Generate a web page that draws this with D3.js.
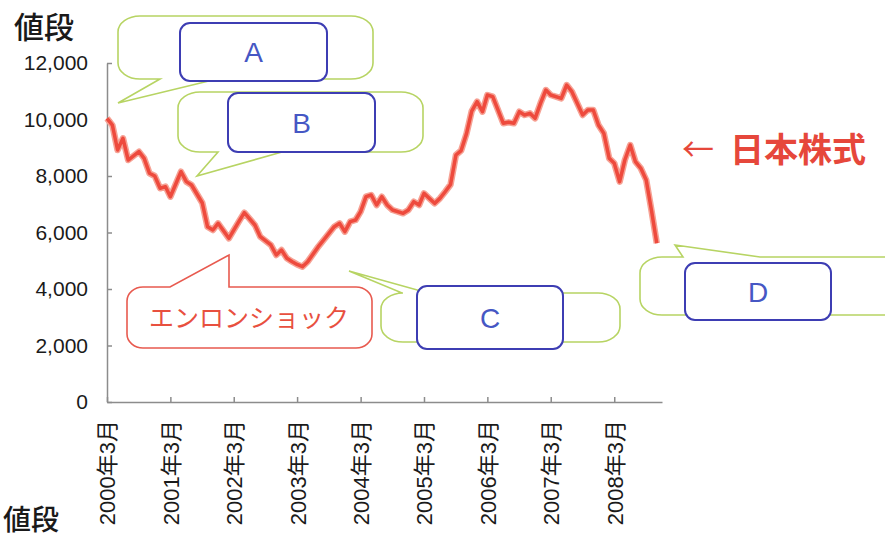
<!DOCTYPE html>
<html>
<head>
<meta charset="utf-8">
<script src="https://cdn.jsdelivr.net/npm/d3@7"></script>
<style>
  body { margin: 0; background: #fff; }
  svg { display: block; }
</style>
</head>
<body>
<script>
// monthly readings of the Japanese stock line (gaps where the picture has no clear vertex)
var dates = [
  "2000-03","2000-04","2000-05","2000-06","2000-07","2000-09","2000-10","2000-11","2000-12",
  "2001-01","2001-02","2001-03","2001-05","2001-06","2001-07","2001-09","2001-10","2001-11","2001-12",
  "2002-02","2002-04","2002-05","2002-07","2002-08","2002-10","2002-11","2002-12",
  "2003-01","2003-02","2003-03","2003-04","2003-05","2003-07","2003-08","2003-10","2003-11","2003-12",
  "2004-01","2004-02","2004-03","2004-04","2004-05","2004-06","2004-07","2004-08","2004-09","2004-11","2004-12",
  "2005-01","2005-02","2005-03","2005-05","2005-06","2005-07","2005-08","2005-09","2005-10","2005-11","2005-12",
  "2006-01","2006-02","2006-03","2006-04","2006-06","2006-07","2006-08","2006-09","2006-10","2006-11","2006-12",
  "2007-01","2007-02","2007-03","2007-05","2007-06","2007-07","2007-09","2007-10","2007-11","2007-12",
  "2008-01","2008-02","2008-03","2008-04","2008-05","2008-06","2008-07","2008-08","2008-09","2008-10","2008-11"
];
var values = [
  10040, 9800, 8920, 9335, 8566, 8860, 8626, 8095, 8000,
  7565, 7622, 7267, 8152, 7800, 7681, 7044, 6205, 6088, 6324,
  5795, 6400, 6702, 6265, 5850, 5558, 5204, 5380,
  5086, 4966, 4870, 4790, 4966, 5497, 5735, 6205, 6324, 6029,
  6383, 6442, 6737, 7267, 7327, 6973, 7267, 6973, 6796, 6678, 6796,
  7091, 6973, 7385, 7032, 7209, 7444, 7700, 8743, 8900, 9500, 10300,
  10631, 10277, 10867, 10808, 9864, 9900, 9864, 10277, 10159, 10218, 10041,
  10572, 11044, 10867, 10749, 11221, 10985, 10159, 10336, 10336, 9805,
  9510, 8626, 8450, 7800, 8566, 9097, 8506, 8272, 7858, 6796, 5617
];
var xTicks = ["2000-03","2001-03","2002-03","2003-03","2004-03","2005-03","2006-03","2007-03","2008-03"];
var yTicks = [0, 2000, 4000, 6000, 8000, 10000, 12000];
var boxLabels = ["A", "B", "C", "D"];

var parse = d3.timeParse("%Y-%m");
var series = dates.map(function(d, i) { return { date: parse(d), value: values[i] }; });

var svg = d3.select("body").append("svg")
    .attr("width", 885)
    .attr("height", 538);

var x = d3.scaleTime()
    .domain([parse("2000-03"), parse("2008-12")])
    .range([107, 662]);
var y = d3.scaleLinear()
    .domain([0, 12000])
    .range([402, 63]);

// axes
var yAxis = svg.append("g")
    .attr("transform", "translate(107,0)")
    .call(d3.axisLeft(y).tickValues(yTicks).tickSizeInner(-5).tickSizeOuter(0)
        .tickPadding(19).tickFormat(d3.format(",")));
var xAxis = svg.append("g")
    .attr("transform", "translate(0,402)")
    .call(d3.axisBottom(x).tickValues(xTicks.map(parse)).tickSizeInner(-5).tickSizeOuter(0)
        .tickFormat(d3.timeFormat("%Y年%-m月")));

svg.selectAll(".domain, .tick line")
    .attr("stroke", "#8c8c8c")
    .attr("stroke-width", 1.5);

yAxis.selectAll("text")
    .attr("font-family", "'Liberation Sans', Arial, sans-serif")
    .attr("font-size", "21px")
    .attr("fill", "#1a1a1a");

xAxis.selectAll("text")
    .attr("font-family", "'Liberation Sans', 'Noto Sans CJK JP', sans-serif")
    .attr("font-size", "22px")
    .attr("fill", "#1a1a1a")
    .attr("text-anchor", "end")
    .attr("transform", "rotate(-90)")
    .attr("x", -18)
    .attr("y", 0)
    .attr("dy", "0.36em");

// price line
var line = d3.line()
    .x(function(d) { return x(d.date); })
    .y(function(d) { return y(d.value); });

svg.append("path")
    .datum(series)
    .attr("fill", "none")
    .attr("stroke", "#f6a295")
    .attr("stroke-width", 6.5)
    .attr("stroke-linejoin", "round")
    .attr("d", line);
svg.append("path")
    .datum(series)
    .attr("fill", "none")
    .attr("stroke", "#ee4a3d")
    .attr("stroke-width", 3.5)
    .attr("stroke-linejoin", "round")
    .attr("d", line);

// speech bubbles
function bubble(bx, by, w, h, rx, ry, tail) {
    var p = "M" + (bx + rx) + "," + by;
    if (tail && tail.side == "top") {
        p += "L" + tail.a + "," + by + "L" + tail.tx + "," + tail.ty + "L" + tail.b + "," + by;
    }
    p += "L" + (bx + w - rx) + "," + by;
    p += "A" + rx + "," + ry + " 0 0 1 " + (bx + w) + "," + (by + ry);
    p += "L" + (bx + w) + "," + (by + h - ry);
    p += "A" + rx + "," + ry + " 0 0 1 " + (bx + w - rx) + "," + (by + h);
    if (tail && tail.side == "bottom") {
        p += "L" + tail.b + "," + (by + h) + "L" + tail.tx + "," + tail.ty + "L" + tail.a + "," + (by + h);
    }
    p += "L" + (bx + rx) + "," + (by + h);
    p += "A" + rx + "," + ry + " 0 0 1 " + bx + "," + (by + h - ry);
    p += "L" + bx + "," + (by + ry);
    p += "A" + rx + "," + ry + " 0 0 1 " + (bx + rx) + "," + by + "Z";
    return p;
}

var green = "#b7d463";
var bubbles = [
    { x: 118, y: 16, w: 255, h: 63, tail: { side: "bottom", a: 160, b: 217, tx: 118, ty: 103 } },
    { x: 178, y: 92, w: 245, h: 60, tail: { side: "bottom", a: 218, b: 282, tx: 197, ty: 176 } },
    { x: 381, y: 293, w: 239, h: 49, tail: { side: "top", a: 402, b: 428, tx: 349, ty: 271 } },
    { x: 640, y: 257, w: 270, h: 58, tail: { side: "top", a: 683, b: 760, tx: 675, ty: 245 } }
];
svg.selectAll(".bubble")
    .data(bubbles)
    .enter()
    .append("path")
    .attr("class", "bubble")
    .attr("d", function(d) { return bubble(d.x, d.y, d.w, d.h, 22, 16, d.tail); })
    .attr("fill", "#fff")
    .attr("stroke", green)
    .attr("stroke-width", 1.6);

// Enron callout
svg.append("path")
    .attr("d", bubble(127, 287, 245, 61, 16, 14, { side: "top", a: 170, b: 229, tx: 229, ty: 255 }))
    .attr("fill", "#fff")
    .attr("stroke", "#e85a4f")
    .attr("stroke-width", 1.6);
svg.append("text")
    .attr("x", 249)
    .attr("y", 318)
    .attr("dy", "0.36em")
    .attr("text-anchor", "middle")
    .attr("font-family", "'Noto Sans CJK JP', sans-serif")
    .attr("font-size", "25px")
    .attr("fill", "#e8503f")
    .text("エンロンショック");

// blue boxes
var boxes = [
    { x: 180, y: 23, w: 147, h: 58 },
    { x: 228, y: 93, w: 147, h: 59 },
    { x: 417, y: 286, w: 146, h: 63 },
    { x: 685, y: 263, w: 146, h: 57 }
];
var boxG = svg.selectAll(".box")
    .data(boxes)
    .enter()
    .append("g")
    .attr("class", "box");
boxG.append("rect")
    .attr("x", function(d) { return d.x; })
    .attr("y", function(d) { return d.y; })
    .attr("width", function(d) { return d.w; })
    .attr("height", function(d) { return d.h; })
    .attr("rx", 10)
    .attr("fill", "#fff")
    .attr("stroke", "#3d3db3")
    .attr("stroke-width", 2);
boxG.append("text")
    .attr("x", function(d) { return d.x + d.w / 2; })
    .attr("y", function(d) { return d.y + d.h / 2; })
    .attr("dy", "0.36em")
    .attr("text-anchor", "middle")
    .attr("font-family", "'Liberation Sans', Arial, sans-serif")
    .attr("font-size", "28px")
    .attr("fill", "#4657c4")
    .text(function(d, i) { return boxLabels[i]; });

// series label
svg.append("text")
    .attr("x", 682)
    .attr("y", 161)
    .attr("font-family", "'Noto Sans CJK JP', sans-serif")
    .attr("font-size", "32px")
    .attr("fill", "#e6473b")
    .text("←");
svg.append("text")
    .attr("x", 730)
    .attr("y", 162)
    .attr("font-family", "'Noto Sans CJK JP', sans-serif")
    .attr("font-size", "34px")
    .attr("font-weight", "bold")
    .attr("fill", "#e6473b")
    .text("日本株式");

// axis titles
svg.append("text")
    .attr("x", 14)
    .attr("y", 38)
    .attr("font-family", "'Noto Sans CJK JP', sans-serif")
    .attr("font-size", "30px")
    .attr("font-weight", 500)
    .attr("fill", "#1a1a1a")
    .text("値段");
svg.append("text")
    .attr("x", 3)
    .attr("y", 530)
    .attr("font-family", "'Noto Sans CJK JP', sans-serif")
    .attr("font-size", "28px")
    .attr("font-weight", 500)
    .attr("fill", "#1a1a1a")
    .text("値段");
</script>
</body>
</html>
